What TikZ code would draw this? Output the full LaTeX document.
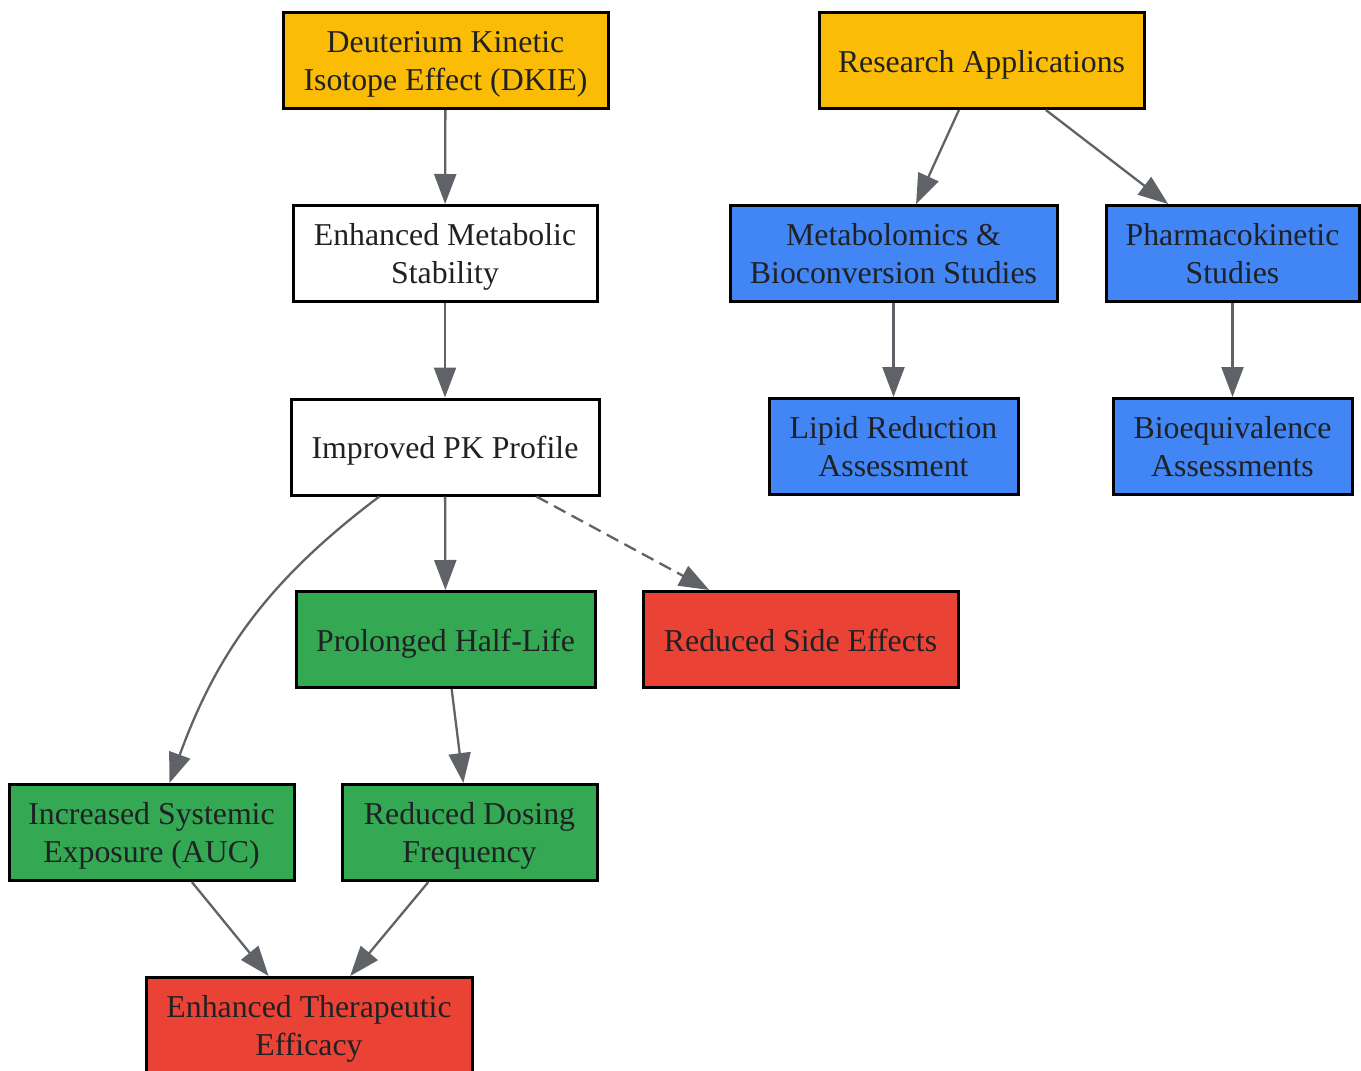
\documentclass[tikz,border=0pt]{standalone}
\usepackage{fontspec}
\setmainfont{Liberation Serif}
\usetikzlibrary{arrows.meta}
\definecolor{gyellow}{HTML}{FBBC05}
\definecolor{gblue}{HTML}{4285F4}
\definecolor{ggreen}{HTML}{34A853}
\definecolor{gred}{HTML}{EA4335}
\definecolor{gtext}{HTML}{202124}
\definecolor{gedge}{HTML}{5F6368}
\tikzset{
    box/.style={draw=black, line width=1.5pt, rectangle, align=center, inner sep=0pt,
        minimum height=48pt, text=gtext, font=\fontsize{15.9}{19}\selectfont,
        execute at begin node={\rule{0pt}{15pt}},
        execute at end node={\rule[-3pt]{0pt}{3pt}}},
    twoline/.style={text height=30pt, text depth=0pt},
    link/.style={draw=gedge, line width=1.15pt, -{Triangle[length=15pt,width=11pt]}}
}

\begin{document}
\begin{tikzpicture}[x=0.5pt, y=-0.5pt]
        \useasboundingbox (0,0) rectangle (1361,1071);

        \node[box, twoline, fill=gyellow, minimum width=162.5pt] (dkie) at (445.5,60.5) {Deuterium Kinetic\\Isotope Effect (DKIE)};
        \node[box, fill=gyellow, minimum width=162.5pt] (apps) at (981.5,60.5) {Research Applications};

        \node[box, twoline, fill=white, minimum width=152pt] (stab) at (445,253.5) {Enhanced Metabolic\\Stability};
        \node[box, twoline, fill=gblue, minimum width=163.5pt] (metab) at (893.5,253.5) {Metabolomics \&\\Bioconversion Studies};
        \node[box, twoline, fill=gblue, minimum width=126.5pt] (pkst) at (1232.5,253.5) {Pharmacokinetic\\Studies};

        \node[box, fill=white, minimum width=154pt] (pk) at (445,447) {Improved PK Profile};
        \node[box, twoline, fill=gblue, minimum width=124.5pt] (lipid) at (893.5,446.5) {Lipid Reduction\\Assessment};
        \node[box, twoline, fill=gblue, minimum width=119.5pt] (bioeq) at (1232.5,446.5) {Bioequivalence\\Assessments};

        \node[box, fill=ggreen, minimum width=149.5pt] (half) at (445.5,639.5) {Prolonged Half-Life};
        \node[box, fill=gred, minimum width=157.5pt] (side) at (800.5,639.5) {Reduced Side Effects};

        \node[box, twoline, fill=ggreen, minimum width=142.5pt] (auc) at (151.5,832.5) {Increased Systemic\\Exposure (AUC)};
        \node[box, twoline, fill=ggreen, minimum width=127.5pt] (dose) at (469.5,832.5) {Reduced Dosing\\Frequency};

        \node[box, twoline, fill=gred, minimum width=163pt] (eff) at (309,1025.5) {Enhanced Therapeutic\\Efficacy};

        \draw[link] (dkie) -- (stab);
        \draw[link] (stab) -- (pk);
        \draw[link] (pk) -- (half);
        \draw[link, dash pattern=on 6.5pt off 3.5pt] (pk) -- (side);
        \draw[link] (pk) to[out=217, in=70] (auc);
        \draw[link] (half) -- (dose);
        \draw[link] (auc) -- (eff);
        \draw[link] (dose) -- (eff);

        \draw[link] (apps) -- (metab);
        \draw[link] (apps) -- (pkst);
        \draw[link] (metab) -- (lipid);
        \draw[link] (pkst) -- (bioeq);

    \end{tikzpicture}
\end{document}
